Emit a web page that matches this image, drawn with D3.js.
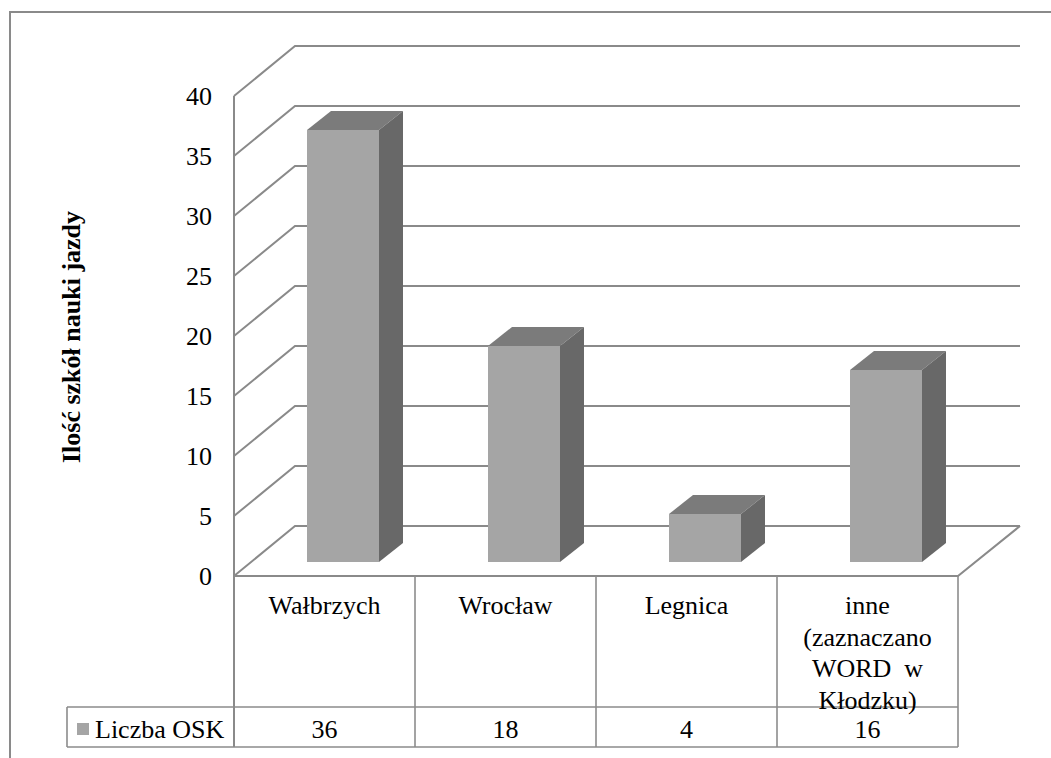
<!DOCTYPE html>
<html><head><meta charset="utf-8">
<script src="https://cdn.jsdelivr.net/npm/d3@7"></script>
<style>body{margin:0;background:#fff}svg{display:block}</style>
</head><body>
<svg id="c" width="1051" height="758"></svg>
<script>
const categories = ["Wałbrzych", "Wrocław", "Legnica", "inne (zaznaczano WORD  w Kłodzku)"];
const categoryLines = [["Wałbrzych"], ["Wrocław"], ["Legnica"], ["inne", "(zaznaczano", "WORD\u00a0 w", "Kłodzku)"]];
const seriesName = "Liczba OSK";
const values = [36, 18, 4, 16];
const yTicks = [0, 5, 10, 15, 20, 25, 30, 35, 40];
const axisTitle = "Ilość szkół nauki jazdy";

const FONT = '"Liberation Serif"';
const svg = d3.select("#c");
const line = "#8a8a8a";
svg.append("path").attr("d","M10,758V12H1051").attr("fill","none").attr("stroke",line).attr("stroke-width",2);

const x = d3.scaleBand().domain(categories).range([234, 958]).padding(0);
const yFront = d3.scaleLinear().domain([0, 40]).range([576, 96]);
const yBar = d3.scaleLinear().domain([0, 40]).range([562, 82]);
const DX = 61, DY = -50;
const bdx = 24, bdy = -19;

const g = svg.append("g");
yTicks.forEach(t => {
  const yf = yFront(t);
  g.append("path")
    .attr("d", `M234,${yf}L${234+DX},${yf+DY}H1020`)
    .attr("fill","none").attr("stroke",line).attr("stroke-width",2);
});
g.append("path").attr("d",`M234,${yFront(0)}H958L1020,${yFront(0)+DY}`)
  .attr("fill","none").attr("stroke",line).attr("stroke-width",2);
g.append("line").attr("x1",234).attr("x2",234).attr("y1",yFront(40)).attr("y2",747)
  .attr("stroke",line).attr("stroke-width",2);

g.selectAll(".tk").data(yTicks).join("text")
  .attr("x", 212).attr("y", d => yFront(d) + 9)
  .attr("text-anchor","end").style("font-family",FONT).style("font-size","26px").text(d => d);

svg.append("text").attr("transform","translate(80,337) rotate(-90)")
  .attr("text-anchor","middle").style("font-family",FONT).style("font-size","26px").style("font-weight","bold").text(axisTitle);

const bars = g.selectAll(".bar").data(values.map((v,i)=>({v, c:categories[i]}))).join("g");
bars.each(function(d){
  const el = d3.select(this);
  const x0 = x(d.c) + 73, w = 72;
  const yt = yBar(d.v), yb = yBar(0);
  el.append("rect").attr("x",x0).attr("y",yt).attr("width",w).attr("height",yb-yt).attr("fill","#a5a5a5");
  el.append("path").attr("d",`M${x0},${yt}L${x0+bdx},${yt+bdy}H${x0+w+bdx}L${x0+w},${yt}Z`).attr("fill","#7b7b7b");
  el.append("path").attr("d",`M${x0+w},${yt}L${x0+w+bdx},${yt+bdy}V${yb+bdy}L${x0+w},${yb}Z`).attr("fill","#686868");
});

const tb = svg.append("g");
const tl = "#8c8c8c";
categories.forEach((c,i) => {
  tb.append("line").attr("x1",x(c)+x.bandwidth()).attr("x2",x(c)+x.bandwidth()).attr("y1",576).attr("y2",747)
    .attr("stroke",tl).attr("stroke-width",1.6);
});
tb.append("path").attr("d","M67,707H958M67,747H958M67,707V747").attr("fill","none").attr("stroke",tl).attr("stroke-width",1.6);
categories.forEach((c,i) => {
  const t = tb.append("text").attr("text-anchor","middle").style("font-family",FONT).style("font-size","26px").style("white-space","pre");
  categoryLines[i].forEach((ln,j) => {
    t.append("tspan").attr("x", x(c)+x.bandwidth()/2).attr("y", 614 + j*31.7).text(ln);
  });
  tb.append("text").attr("x", x(c)+x.bandwidth()/2).attr("y", 738).attr("text-anchor","middle")
    .style("font-family",FONT).style("font-size","26px").text(values[i]);
});
tb.append("rect").attr("x",77).attr("y",723).attr("width",12).attr("height",12).attr("fill","#a5a5a5");
tb.append("text").attr("x",95).attr("y",738).style("font-family",FONT).style("font-size","26px").text(seriesName);
</script>
</body></html>
